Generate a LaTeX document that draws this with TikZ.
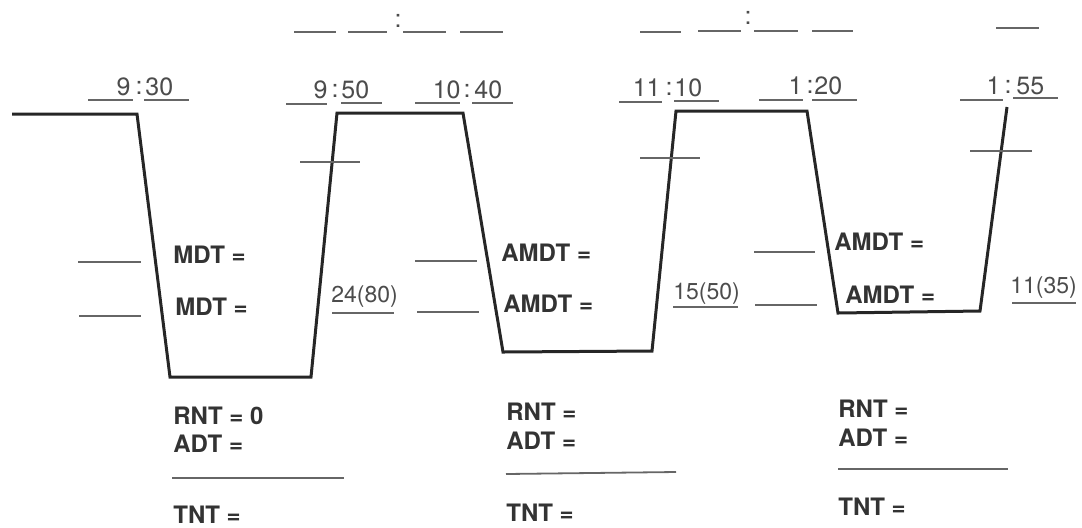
\documentclass[tikz,border=0pt]{standalone}
\usepackage{fontspec}
\setmainfont{TeX Gyre Heros}
\begin{document}
\begin{tikzpicture}[x=0.5pt,y=-0.5pt,
  profile/.style={line width=1.5pt, draw=black!85, line join=miter},
  blank/.style={line width=0.9pt, draw=black!60},
  lbl/.style={inner sep=0pt, anchor=west, font=\fontsize{12}{14}\selectfont\bfseries, text=black!80},
  tm/.style={inner sep=0pt, font=\fontsize{12.5}{15}\selectfont, text=black!70},
  val/.style={inner sep=0pt, anchor=west, font=\fontsize{11.5}{14}\selectfont, text=black!70},
]
\useasboundingbox (0,0) rectangle (1082,527);

% ---- dive profile ----
\coordinate (p0) at (12,114);
\coordinate (p1) at (137,114);
\coordinate (p2) at (170,377);
\coordinate (p3) at (311,377);
\coordinate (p4) at (337,113);
\coordinate (p5) at (463,113);
\coordinate (p6) at (503,352);
\coordinate (p7) at (652,351);
\coordinate (p8) at (676,111);
\coordinate (p9) at (807,111);
\coordinate (p10) at (838,313);
\coordinate (p11) at (980,311);
\coordinate (p12) at (1007,107);
\draw[profile] (p0) -- (p1) -- (p2) -- (p3) -- (p4) -- (p5) -- (p6) -- (p7) -- (p8) -- (p9) -- (p10) -- (p11) -- (p12);

% ---- top blank rows ----
\draw[blank] (294,32) -- (336,32);
\draw[blank] (348,32) -- (387,32);
\draw[blank] (403,32) -- (446,32);
\draw[blank] (460,32) -- (503,32);
\node[tm] (tc1) at (398,21) {:};
\draw[blank] (640,32) -- (681,32);
\draw[blank] (698,31) -- (741,31);
\draw[blank] (754,31) -- (798,31);
\draw[blank] (812,31) -- (853,31);
\node[tm] (tc2) at (748,18) {:};
\draw[blank] (996,28) -- (1039,28);

% ---- times ----
\draw[blank] (88,100) -- (133,100);
\draw[blank] (144,100) -- (189,100);
\node[tm, anchor=east] (t1h) at (131,87) {9};
\node[tm] (t1c) at (139,88) {:};
\node[tm, anchor=west] (t1m) at (145,87) {30};

\draw[blank] (286,104) -- (327,104);
\draw[blank] (341,103) -- (382,103);
\node[tm, anchor=east] (t2h) at (328,90) {9};
\node[tm] (t2c) at (335,91) {:};
\node[tm, anchor=west] (t2m) at (341,90) {50};

\draw[blank] (415,103) -- (460,103);
\draw[blank] (472,103) -- (513,103);
\node[tm, anchor=east] (t3h) at (461,90) {10};
\node[tm] (t3c) at (467,91) {:};
\node[tm, anchor=west] (t3m) at (474,90) {40};

\draw[blank] (619,102) -- (662,102);
\draw[blank] (674,101) -- (719,101);
\node[tm, anchor=east] (t4h) at (661,88) {11};
\node[tm] (t4c) at (669,89) {:};
\node[tm, anchor=west] (t4m) at (674,88) {10};

\draw[blank] (759,100) -- (803,100);
\draw[blank] (812,100) -- (857,100);
\node[tm, anchor=east] (t5h) at (803,86) {1};
\node[tm] (t5c) at (810,87) {:};
\node[tm, anchor=west] (t5m) at (814,86) {20};

\draw[blank] (960,100) -- (1003,100);
\draw[blank] (1013,98) -- (1058,98);
\node[tm, anchor=east] (t6h) at (1001,86) {1};
\node[tm] (t6c) at (1008,87) {:};
\node[tm, anchor=west] (t6m) at (1016,86) {55};

% ---- tick marks on ascents ----
\draw[blank] (300,162) -- (360,162);
\draw[blank] (640,158) -- (700,158);
\draw[blank] (970,151) -- (1032,151);

% ---- blanks beside descents ----
\draw[blank] (78,262) -- (141,262);
\draw[blank] (79,316) -- (141,316);
\draw[blank] (415,261) -- (477,261);
\draw[blank] (417,312) -- (479,312);
\draw[blank] (754,252) -- (815,252);
\draw[blank] (755,305) -- (817,305);

% ---- depth labels ----
\node[lbl] (m1) at (173,255) {MDT =};
\node[lbl] (m2) at (175,307) {MDT =};
\node[lbl] (a1) at (501,253) {AMDT =};
\node[lbl] (a2) at (503,304) {AMDT =};
\node[lbl] (a3) at (834,242) {AMDT =};
\node[lbl] (a4) at (845,295) {AMDT =};

% ---- depth/time values ----
\node[val] (v1) at (331,297) {24(80)};
\draw[blank] (332,313) -- (394,313);
\node[val] (v2) at (673,294) {15(50)};
\draw[blank] (673,307) -- (738,307);
\node[val] (v3) at (1010,288) {11(35)};
\draw[blank] (1012,303) -- (1076,303);

% ---- bottom blocks ----
\node[lbl] (r1) at (173,416) {RNT = 0};
\node[lbl] (d1) at (173,444) {ADT =};
\draw[blank] (172,478) -- (344,478);
\node[lbl] (n1) at (173,515) {TNT =};

\node[lbl] (r2) at (506,412) {RNT =};
\node[lbl] (d2) at (506,441) {ADT =};
\draw[blank] (506,474) -- (676,472);
\node[lbl] (n2) at (506,513) {TNT =};

\node[lbl] (r3) at (838,409) {RNT =};
\node[lbl] (d3) at (838,438) {ADT =};
\draw[blank] (838,469) -- (1008,469);
\node[lbl] (n3) at (838,507) {TNT =};
\end{tikzpicture}
\end{document}
